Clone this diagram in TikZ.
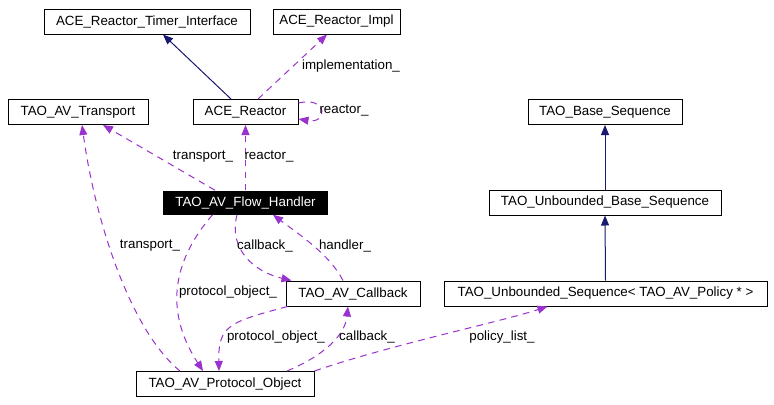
\documentclass[tikz,border=0pt]{standalone}
\usepackage{fontspec}
\setmainfont{Liberation Sans}
\usetikzlibrary{arrows.meta,calc}
\definecolor{navyc}{HTML}{191970}
\definecolor{purp}{HTML}{9A32CD}
\begin{document}
\begin{tikzpicture}[x=0.75pt,y=-0.75pt,font=\fontsize{10}{12}\selectfont,
  box/.style={draw,line width=0.75pt,minimum height=18.75pt,minimum width=#1*0.75pt,inner sep=0pt},
  dark/.style={fill=black,text=white,minimum height=18pt,minimum width=#1*0.75pt,inner sep=0pt},
  inh/.style={navyc,line width=0.75pt,-{Triangle[length=7.5pt,width=6pt]}},
  use/.style={purp,line width=0.75pt,dash pattern=on 5pt off 4pt,-{Triangle[length=7.5pt,width=6pt]}},
  lbl/.style={inner sep=0pt,text=black}]
\useasboundingbox (0,0) rectangle (774,404);
% nodes
\node[box=206] (timer) at (147,21.5) {ACE\_Reactor\_Timer\_Interface};
\node[box=127] (impl) at (336.5,21.5) {ACE\_Reactor\_Impl};
\node[box=140] (transport) at (78,112) {TAO\_AV\_Transport};
\node[box=105] (reactor) at (245.5,112) {ACE\_Reactor};
\node[dark=165] (flow) at (245.5,202.5) {TAO\_AV\_Flow\_Handler};
\node[box=134] (callback) at (353,293.5) {TAO\_AV\_Callback};
\node[box=323] (unbseq) at (605.5,293.5) {TAO\_Unbounded\_Sequence< TAO\_AV\_Policy * >};
\node[box=178] (proto) at (225,384) {TAO\_AV\_Protocol\_Object};
\node[box=154] (baseseq) at (605,112) {TAO\_Base\_Sequence};
\node[box=232] (unbbase) at (605,202.5) {TAO\_Unbounded\_Base\_Sequence};
% inheritance
\draw[inh] ($(reactor.north)+(-14.5,0)$) -- ($(timer.south)+(16,0)$);
\draw[inh] (unbseq.north) -- (unbbase.south);
\draw[inh] (unbbase.north) -- (baseseq.south);
% usage
\draw[use] ($(reactor.north)+(12.5,0)$) -- ($(impl.south)+(-9.5,0)$);
\node[lbl] (limpl) at (351,66) {implementation\_};
\draw[use] ($(reactor.east)+(0,-9)$) .. controls (328,96) and (328,124) .. ($(reactor.east)+(0,7)$);
\node[lbl] (lreact1) at (344,111) {reactor\_};
\draw[use] ($(flow.north)+(-30.5,0)$) -- ($(transport.south)+(25,0)$);
\node[lbl] (ltrans1) at (203,157) {transport\_};
\draw[use] (flow.north) -- (reactor.south);
\node[lbl] (lreact2) at (269,157) {reactor\_};
\draw[use] ($(flow.south)+(-8.5,0)$) .. controls (228,250) and (255,272) .. ($(callback.north west)+(6,0)$);
\node[lbl] (lcb1) at (265,246) {callback\_};
\draw[use] ($(callback.north)+(-10,0)$) .. controls (330,255) and (300,235) .. ($(flow.south)+(27.5,0)$);
\node[lbl] (lhandler) at (345,246) {handler\_};
\draw[use] ($(flow.south)+(-33,0)$) .. controls (165,270) and (170,320) .. ($(proto.north)+(-22,0)$);
\node[lbl] (lproto1) at (228,292) {protocol\_object\_};
\draw[use] ($(proto.north)+(-45,0)$) .. controls (130,330) and (95,220) .. ($(transport.south)+(4,0)$);
\node[lbl] (ltrans2) at (150,246) {transport\_};
\draw[use] ($(callback.south west)+(2,0)$) .. controls (230,322) and (218,325) .. ($(proto.north)+(-6,0)$);
\node[lbl] (lproto2) at (276,337) {protocol\_object\_};
\draw[use] ($(proto.north)+(62,0)$) .. controls (325,355) and (345,335) .. ($(callback.south)+(-5,0)$);
\node[lbl] (lcb2) at (367,337) {callback\_};
\draw[use] (proto.north east) .. controls (390,345) and (500,322) .. ($(unbseq.south)+(-58,0)$);
\node[lbl] (lpolicy) at (502,337) {policy\_list\_};
\end{tikzpicture}
\end{document}
